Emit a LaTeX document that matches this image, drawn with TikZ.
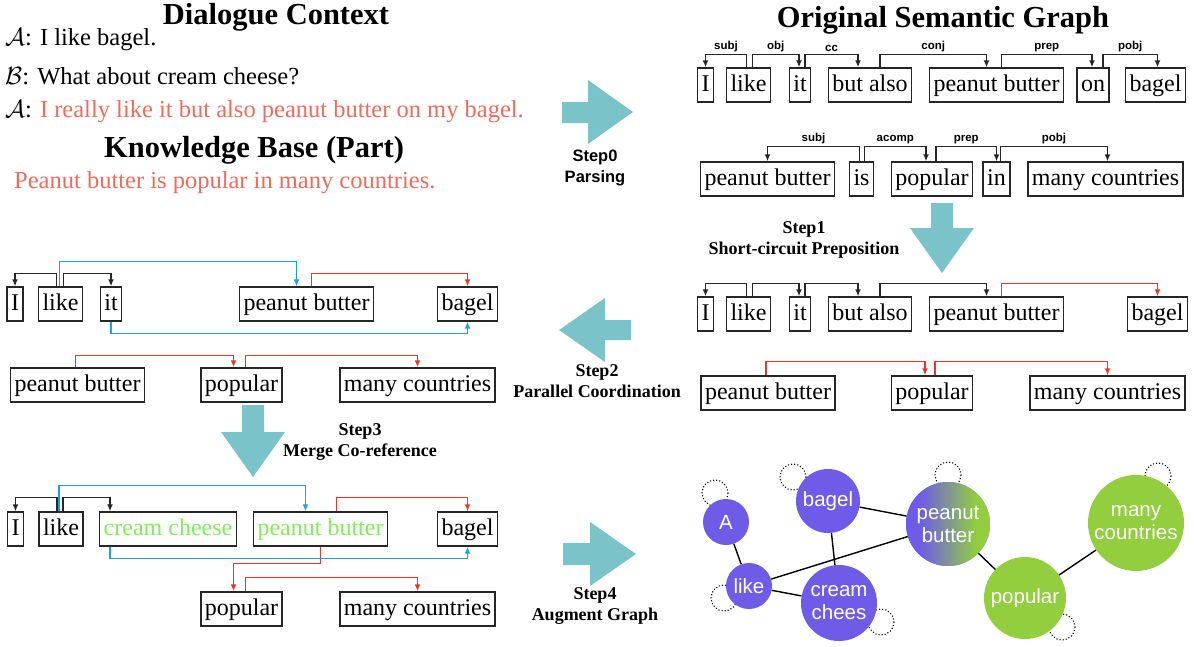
\documentclass[tikz,border=0pt]{standalone}
\usepackage{fontspec}
\setmainfont{Liberation Serif}
\setsansfont{Liberation Sans}
\usetikzlibrary{arrows.meta,calc,backgrounds}

\definecolor{stepteal}{RGB}{122,195,201}
\definecolor{arcred}{RGB}{240,52,34}
\definecolor{textred}{RGB}{242,106,90}
\definecolor{corefblue}{RGB}{22,160,240}
\definecolor{mergegreen}{RGB}{128,238,90}
\definecolor{gpurple}{RGB}{110,91,232}
\definecolor{ggreen}{RGB}{146,206,62}

\pgfdeclarehorizontalshading{pbshade}{100bp}{color(0bp)=(gpurple); color(33bp)=(gpurple); color(67bp)=(ggreen); color(100bp)=(ggreen)}

\begin{document}
\begin{tikzpicture}[
    x=1pt, y=-1pt,
    word/.style={draw=black!85, line width=1.4pt, inner xsep=4pt, inner ysep=6pt, text height=17pt, text depth=5pt, font=\fontsize{24}{28}\selectfont},
    dep/.style={-{Latex[length=7pt,width=6pt]}, line width=1.5pt, draw=black!85},
    kb/.style={dep, draw=arcred},
    coref/.style={dep, draw=corefblue},
    rel/.style={font=\sffamily\bfseries\fontsize{11.5}{13}\selectfont, inner sep=1.5pt, above},
    title/.style={font=\bfseries\fontsize{30.5}{34}\selectfont, anchor=base, inner sep=0pt},
    sent/.style={font=\fontsize{24.5}{28}\selectfont, anchor=base west, inner sep=0pt},
    steplabel/.style={font=\bfseries\fontsize{18}{21}\selectfont, align=center},
    steparrow/.style={fill=stepteal},
    gnode/.style={circle, fill=gpurple, inner sep=0pt, text=white, align=center, font=\sffamily\fontsize{20.5}{23}\selectfont},
    gkb/.style={gnode, fill=ggreen},
    gedge/.style={line width=1.4pt},
    selfloop/.style={dotted, line width=1.1pt}
]
\useasboundingbox (0,0) rectangle (1194,646);

% dialogue context and knowledge base
\node[title] (ctxtitle) at (276,24) {Dialogue Context};
\node[sent] (ctx1) at (5,45) {$\mathcal{A}$: I like bagel.};
\node[sent] (ctx2) at (5,84) {$\mathcal{B}$: What about cream cheese?};
\node[sent] (ctx3) at (5,117) {$\mathcal{A}$: \textcolor{textred}{I really like it but also peanut butter on my bagel.}};
\node[title] (kbtitle) at (254,157) {Knowledge Base (Part)};
\node[sent, text=textred] (kbtext) at (14,188) {Peanut butter is popular in many countries.};
\node[title] (osgtitle) at (943,27) {Original Semantic Graph};

% step arrows
\fill[steparrow] (562,102) -- (588,102) -- (588,80) -- (633,112) -- (588,144) -- (588,123) -- (562,123) -- cycle;
\node[steplabel, font=\sffamily\bfseries\fontsize{16.5}{21}\selectfont] (step0) at (595,167.5) {Step0\\Parsing};
\fill[steparrow] (931,203) -- (953,203) -- (953,228) -- (974,228) -- (942,273) -- (910,228) -- (931,228) -- cycle;
\node[steplabel] (step1) at (804,239.5) {Step1\\Short-circuit Preposition};
\fill[steparrow] (559,330) -- (605,298) -- (605,320) -- (631,320) -- (631,340) -- (605,340) -- (605,362) -- cycle;
\node[steplabel] (step2) at (597,381.5) {Step2\\Parallel Coordination};
\fill[steparrow] (242,405) -- (264,405) -- (264,432) -- (285,432) -- (253,477) -- (221,432) -- (242,432) -- cycle;
\node[steplabel] (step3) at (360,442.5) {Step3\\Merge Co-reference};
\fill[steparrow] (563,543) -- (590,543) -- (590,522) -- (636,554) -- (590,586) -- (590,565) -- (563,565) -- cycle;
\node[steplabel] (step4) at (595,606.5) {Step4\\Augment Graph};

% original parse, dialogue
\node[word] (r1i) at (705.5,85) {I};
\node[word] (r1like) at (748.5,85) {like};
\node[word] (r1it) at (800,85) {it};
\node[word] (r1but) at (870,85) {but also};
\node[word] (r1pb) at (996.5,85) {peanut butter};
\node[word] (r1on) at (1093,85) {on};
\node[word] (r1bagel) at (1155.5,85) {bagel};
\draw[dep] ([xshift=-2pt]r1like.north) -- ++(0,-13) -| node[rel, pos=0.25] {subj} (r1i.north);
\draw[dep] ([xshift=4pt]r1like.north) -- ++(0,-13) -| node[rel, pos=0.25] {obj} ([xshift=-1pt]r1it.north);
\draw[dep] ([xshift=5pt]r1it.north) -- ++(0,-13) -| node[rel, pos=0.25] {cc} ([xshift=-12pt]r1but.north);
\draw[dep] ([xshift=10pt]r1but.north) -- ++(0,-13) -| node[rel, pos=0.25] {conj} ([xshift=-10pt]r1pb.north);
\draw[dep] ([xshift=5pt]r1pb.north) -- ++(0,-13) -| node[rel, pos=0.25] {prep} ([xshift=-1pt]r1on.north);
\draw[dep] ([xshift=10pt]r1on.north) -- ++(0,-13) -| node[rel, pos=0.25] {pobj} ([xshift=2pt]r1bagel.north);

% original parse, knowledge
\node[word] (r2pb) at (767.5,179) {peanut butter};
\node[word] (r2is) at (861.5,179) {is};
\node[word] (r2pop) at (932,179) {popular};
\node[word] (r2in) at (996.5,179) {in};
\node[word] (r2mc) at (1105.5,179) {many countries};
\draw[dep] ([xshift=-2pt]r2is.north) -- ++(0,-15) -| node[rel, pos=0.25] {subj} (r2pb.north);
\draw[dep] ([xshift=3pt]r2is.north) -- ++(0,-15) -| node[rel, pos=0.25] {acomp} ([xshift=-6pt]r2pop.north);
\draw[dep] ([xshift=4pt]r2pop.north) -- ++(0,-15) -| node[rel, pos=0.25] {prep} (r2in.north);
\draw[dep] ([xshift=4pt]r2in.north) -- ++(0,-15) -| node[rel, pos=0.25] {pobj} ([xshift=2pt]r2mc.north);

% after step1
\node[word] (r3i) at (705.5,314) {I};
\node[word] (r3like) at (748.5,314) {like};
\node[word] (r3it) at (800,314) {it};
\node[word] (r3but) at (870,314) {but also};
\node[word] (r3pb) at (996.5,314) {peanut butter};
\node[word] (r3bagel) at (1157.5,314) {bagel};
\draw[dep] ([xshift=-2pt]r3like.north) -- ++(0,-13) -| (r3i.north);
\draw[dep] ([xshift=4pt]r3like.north) -- ++(0,-13) -| ([xshift=-1pt]r3it.north);
\draw[dep] ([xshift=5pt]r3it.north) -- ++(0,-13) -| ([xshift=-12pt]r3but.north);
\draw[dep] ([xshift=10pt]r3but.north) -- ++(0,-13) -| ([xshift=-10pt]r3pb.north);
\draw[kb] ([xshift=5pt]r3pb.north) -- ++(0,-13) -| (r3bagel.north);

\node[word] (r4pb) at (768,393) {peanut butter};
\node[word] (r4pop) at (932,393) {popular};
\node[word] (r4mc) at (1107.5,393) {many countries};
\draw[kb] ([xshift=-2pt]r4pb.north) -- ++(0,-14) -| ([xshift=-7pt]r4pop.north);
\draw[kb] ([xshift=3pt]r4pop.north) -- ++(0,-14) -| (r4mc.north);

% after step2
\node[word] (lai) at (15,304) {I};
\node[word] (lalike) at (60.5,304) {like};
\node[word] (lait) at (111,304) {it};
\node[word] (lapb) at (306.5,304) {peanut butter};
\node[word] (labagel) at (467.5,304) {bagel};
\draw[dep] ([xshift=-4pt]lalike.north) -- ++(0,-13) -| (lai.north);
\draw[dep] ([xshift=3pt]lalike.north) -- ++(0,-13) -| (lait.north);
\draw[coref] ([xshift=-1pt]lalike.north) -- ++(0,-25) -| ([xshift=-10pt]lapb.north);
\draw[kb] ([xshift=5pt]lapb.north) -- ++(0,-13) -| (labagel.north);
\draw[coref] (lait.south) -- ++(0,12) -| (labagel.south);

\node[word] (lbpb) at (77.5,385) {peanut butter};
\node[word] (lbpop) at (241.5,385) {popular};
\node[word] (lbmc) at (417.5,385) {many countries};
\draw[kb] ([xshift=-2pt]lbpb.north) -- ++(0,-12) -| ([xshift=-8pt]lbpop.north);
\draw[kb] ([xshift=4pt]lbpop.north) -- ++(0,-12) -| (lbmc.north);

% after step3
\node[word] (lci) at (15.5,529) {I};
\node[word] (lclike) at (61,529) {like};
\node[word, text=mergegreen] (lccc) at (168,529) {cream cheese};
\node[word, text=mergegreen] (lcpb) at (320.5,529) {peanut butter};
\node[word] (lcbagel) at (467.5,529) {bagel};
\node[word] (ldpop) at (241.5,609) {popular};
\node[word] (ldmc) at (417.5,609) {many countries};
\draw[dep] ([xshift=-4pt]lclike.north) -- ++(0,-14) -| (lci.north);
\draw[dep] ([xshift=2pt]lclike.north) -- ++(0,-14) -| ([xshift=-58pt]lccc.north);
\draw[coref] ([xshift=-2pt]lclike.north) -- ++(0,-26) -| ([xshift=-15pt]lcpb.north);
\draw[kb] ([xshift=16pt]lcpb.north) -- ++(0,-14) -| (lcbagel.north);
\draw[kb] (lcpb.south) -- ++(0,17) -| ([xshift=-8pt]ldpop.north);
\draw[coref] ([xshift=-58pt]lccc.south) -- ++(0,12) -| (lcbagel.south);
\draw[kb] ([xshift=4pt]ldpop.north) -- ++(0,-14) -| (ldmc.north);

% augmented graph
\node[gnode, minimum size=46pt] (gA) at (726,522) {A};
\node[gnode, minimum size=46pt] (glike) at (749,586) {like};
\node[gnode, minimum size=64pt] (gbagel) at (828,501) {bagel};
\node[gnode, minimum size=76pt] (gcream) at (839,603) {cream\\chees};
\node[gnode, minimum size=84pt, shading=pbshade] (gpb) at (948,524) {peanut\\butter};
\node[gkb, minimum size=82pt] (gpop) at (1025,598) {popular};
\node[gkb, minimum size=96pt] (gmc) at (1136,523) {many\\countries};
\draw[gedge] (gA) -- (glike);
\draw[gedge] (glike) -- (gpb);
\draw[gedge] (glike) -- (gcream);
\draw[gedge] (gbagel) -- (gcream);
\draw[gedge] (gbagel) -- (gpb);
\draw[gedge] (gpb) -- (gpop);
\draw[gedge] (gpop) -- (gmc);
\begin{scope}[on background layer]
\draw[selfloop] ($(gA)+(-11,-29)$) circle[radius=13];
\draw[selfloop] ($(gbagel)+(-35,-24)$) circle[radius=13];
\draw[selfloop] ($(gpb)+(0,-49)$) circle[radius=13];
\draw[selfloop] ($(gmc)+(22,-47)$) circle[radius=13];
\draw[selfloop] ($(glike)+(-25,12)$) circle[radius=13];
\draw[selfloop] ($(gcream)+(42,19)$) circle[radius=13];
\draw[selfloop] ($(gpop)+(37,29)$) circle[radius=13];
\end{scope}
\end{tikzpicture}
\end{document}
